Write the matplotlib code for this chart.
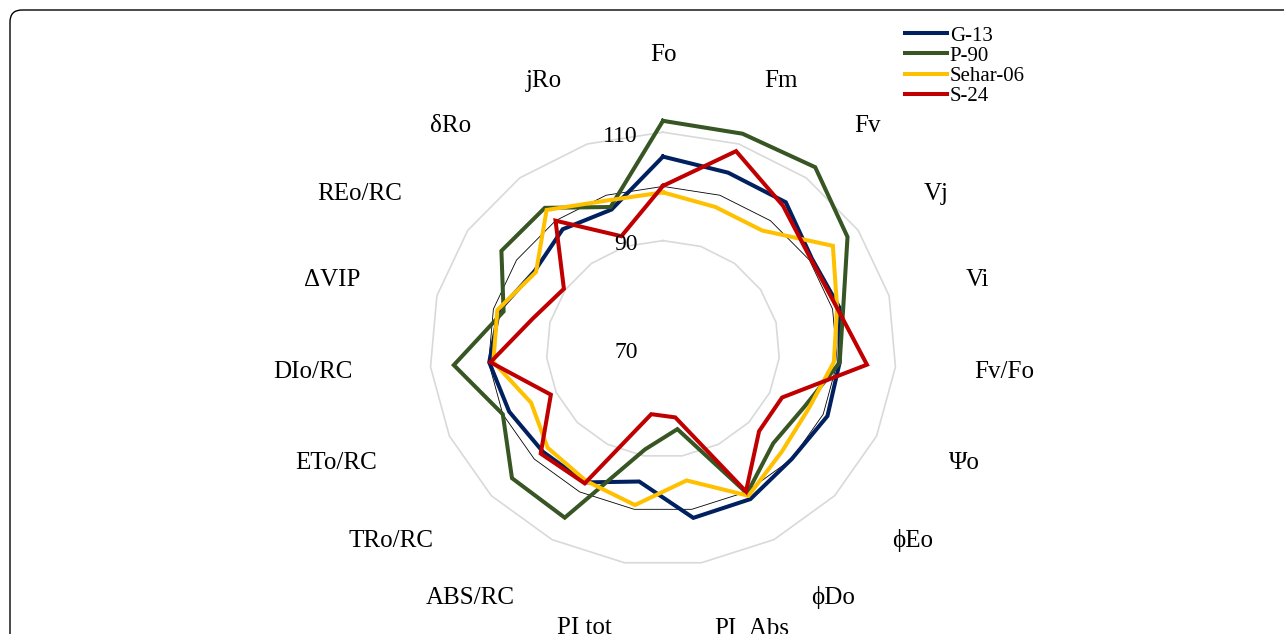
import numpy as np
import matplotlib
matplotlib.use("Agg")
import matplotlib.pyplot as plt
from matplotlib.patches import FancyBboxPatch
from matplotlib.transforms import IdentityTransform

# chlorophyll fluorescence parameters (% of control)
categories = ['Fo', 'Fm', 'Fv', 'Vj', 'Vi', 'Fv/Fo', 'Ψo', 'ϕEo', 'ϕDo', 'PI_Abs',
              'PI tot', 'ABS/RC', 'TRo/RC', 'ETo/RC', 'DIo/RC', 'ΔVIP', 'REo/RC',
              'δRo', 'jRo']

g13 = [105.5, 104.4, 104.3, 100.5, 101.2, 100.4, 100.8, 100.0, 101.5, 101.6,
       94.8, 98.0, 98.0, 98.8, 99.9, 99.0, 96.3, 98.0, 97.2]
p90 = [112.1, 112.0, 112.5, 107.8, 101.9, 100.4, 96.5, 95.7, 100.3, 85.0,
       88.8, 105.4, 105.2, 100.0, 106.0, 98.2, 103.1, 103.0, 97.7]
sehar06 = [98.9, 97.7, 97.7, 104.8, 100.8, 99.4, 97.3, 97.8, 100.8, 94.6,
           99.2, 97.7, 96.9, 94.7, 99.2, 99.3, 96.0, 102.5, 99.0]
s24 = [100.1, 108.6, 103.5, 100.3, 100.8, 105.1, 92.3, 92.4, 99.9, 82.8,
       82.2, 98.2, 98.5, 91.0, 99.7, 93.0, 90.3, 100.0, 92.0]
control = [100] * len(categories)

series_names = ['G-13', 'P-90', 'Sehar-06', 'S-24']
series_colors = ['#002060', '#375623', '#FFC000', '#C00000']

r_min = 70
grid_values = [90, 110]
tick_values = [70, 90, 110]

serif = ['Liberation Serif', 'DejaVu Serif']

n = len(categories)
theta = np.pi / 2 - np.arange(n) * 2 * np.pi / n   # clockwise from the top


def to_xy(values):
    """radar values -> closed x/y lists (value units, center = r_min)"""
    r = np.asarray(values, dtype=float) - r_min
    x = r * np.cos(theta)
    y = r * np.sin(theta)
    return np.append(x, x[0]), np.append(y, y[0])


fig = plt.figure(figsize=(12.84, 6.34), dpi=100)
ax = fig.add_axes([0, 0, 1, 1])
# stretched radar like the original (wider than tall)
ax.set_xlim(-113.7, 106.5)
ax.set_ylim(-52.6, 64.4)
ax.axis('off')

# polygon gridlines
for gv in grid_values:
    gx, gy = to_xy([gv] * n)
    ax.plot(gx, gy, color='#d9d9d9', lw=1.2, zorder=1)

# thin reference (control = 100)
cx, cy = to_xy(control)
ax.plot(cx, cy, color='black', lw=0.6, zorder=2)

for name, vals, col in zip(series_names, [g13, p90, sehar06, s24], series_colors):
    x, y = to_xy(vals)
    ax.plot(x, y, color=col, lw=2.9, label=name, zorder=3, solid_joinstyle='miter')

# radial axis labels
for tv in tick_values:
    ax.text(-4.3, tv - r_min - 0.7, str(tv), ha='right', va='center', fontsize=17,
            family=serif, zorder=4)

# category labels: anchored on an ellipse, aligned away from the center
lab_rx = 53.5
lab_ry = 52.2
for lab, t in zip(categories, theta):
    c = np.cos(t)
    if c > 1e-6:
        ha, va = 'left', 'center'
    elif c < -1e-6:
        ha, va = 'right', 'center'
    else:
        ha, va = 'center', 'bottom'
    ax.text(lab_rx * c, lab_ry * np.sin(t), lab, ha=ha, va=va,
            fontsize=18, family=serif)

leg = fig.legend(loc='upper left', bbox_to_anchor=(0.7048, 0.959), frameon=False,
                 prop={'family': serif, 'size': 15}, handlelength=2.0,
                 handletextpad=0.15, labelspacing=0.03, borderaxespad=0,
                 borderpad=0)
for line in leg.get_lines():
    line.set_linewidth(2.9)

# rounded frame around the figure (runs off the right and bottom edges)
frame = FancyBboxPatch((10, -30), 1300, 654, boxstyle='round,pad=0,rounding_size=12',
                       transform=IdentityTransform(), fill=False, ec='black', lw=1)
fig.patches.append(frame)

fig.savefig('out.png', dpi=100)
